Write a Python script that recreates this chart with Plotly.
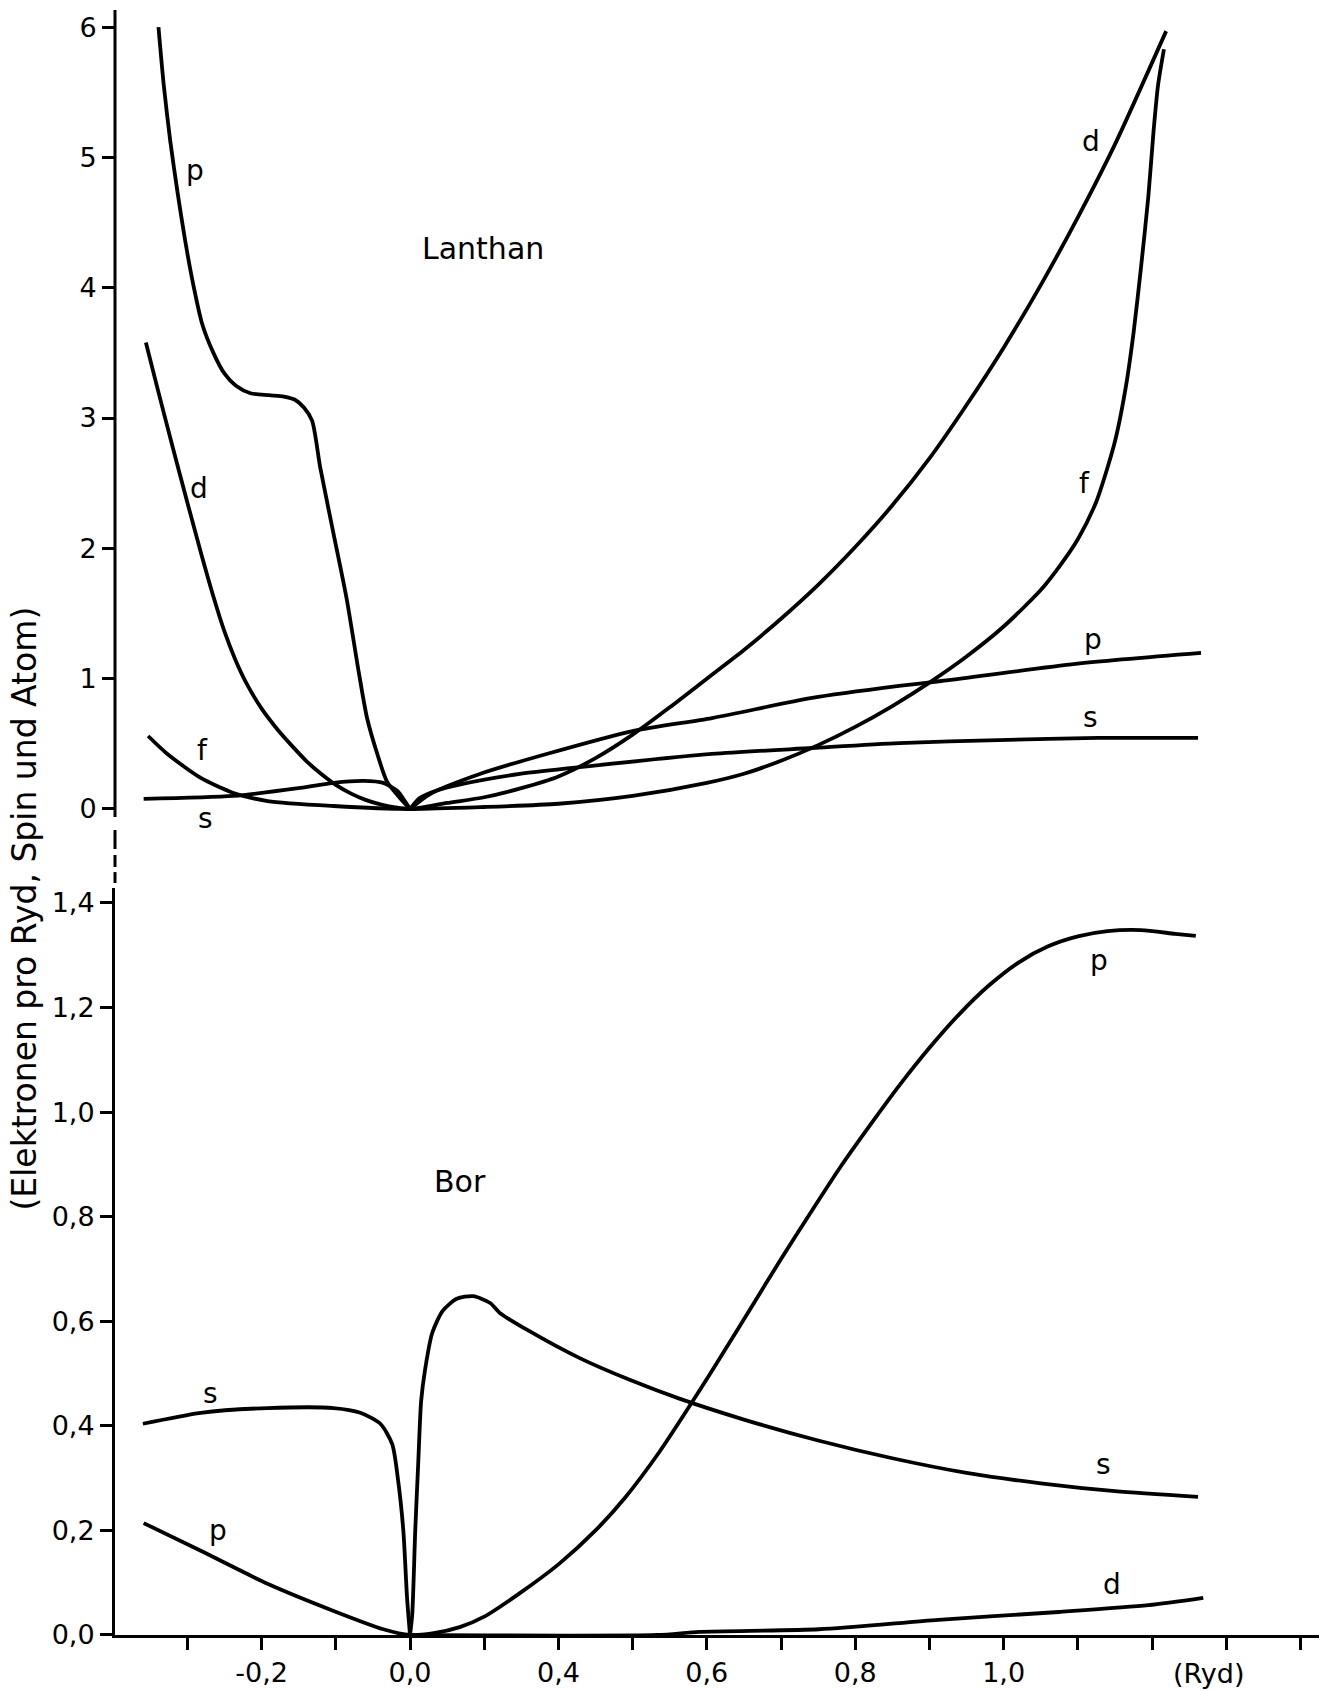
import plotly.graph_objects as go

# ---------------------------------------------------------------------------
# Partial state densities, Lanthan (top) and Bor (bottom)
# energy E in Ryd relative to the Fermi level, N in electrons per Ryd, spin, atom
# a None splits a curve into separate branches at a cusp
# ---------------------------------------------------------------------------

# Lanthan
la_p_E = [-0.339, -0.332, -0.323, -0.313, -0.303, -0.292, -0.280, -0.265, -0.250, -0.235,
          -0.215, -0.190, -0.170, -0.155, -0.143, -0.132, -0.121, -0.103, -0.085, -0.070,
          -0.058, -0.044, -0.031, -0.013, 0.0, None,
          0.0, 0.027, 0.094, 0.184, 0.300, 0.407, 0.542, 0.659, 0.716, 0.897, 1.066]
la_p_N = [6.00, 5.56, 5.12, 4.72, 4.36, 4.02, 3.72, 3.50, 3.34, 3.25,
          3.19, 3.175, 3.165, 3.14, 3.08, 2.98, 2.62, 2.11, 1.60, 1.08,
          0.70, 0.42, 0.21, 0.08, 0.0, None,
          0.0, 0.115, 0.269, 0.422, 0.598, 0.698, 0.852, 0.944, 0.982, 1.113, 1.197]

la_d_E = [-0.356, -0.340, -0.320, -0.300, -0.282, -0.265, -0.250, -0.235, -0.220, -0.200,
          -0.180, -0.160, -0.140, -0.120, -0.100, -0.080, -0.060, -0.040, -0.020, 0.0,
          0.05, 0.10, 0.15, 0.20, 0.25, 0.30, 0.35, 0.40, 0.45, 0.50,
          0.55, 0.60, 0.65, 0.70, 0.75, 0.80, 0.85, 0.90, 0.95, 1.019]
la_d_N = [3.58, 3.22, 2.78, 2.35, 1.97, 1.63, 1.36, 1.14, 0.96, 0.77,
          0.62, 0.49, 0.37, 0.27, 0.185, 0.12, 0.07, 0.035, 0.012, 0.0,
          0.046, 0.09, 0.16, 0.25, 0.39, 0.57, 0.78, 1.00, 1.22, 1.46,
          1.72, 2.01, 2.33, 2.69, 3.10, 3.54, 4.02, 4.54, 5.10, 5.969]

la_f_E = [-0.353, -0.327, -0.282, -0.238, -0.192, -0.103, 0.0, 0.10, 0.20, 0.30,
          0.40, 0.45, 0.50, 0.55, 0.60, 0.65, 0.70, 0.75, 0.80, 0.85,
          0.875, 0.90, 0.925, 0.95, 0.965, 0.975, 0.985, 0.995, 1.002, 1.008, 1.016]
la_f_N = [0.560, 0.422, 0.238, 0.123, 0.061, 0.023, 0.0, 0.015, 0.04, 0.10,
          0.20, 0.27, 0.37, 0.49, 0.63, 0.79, 0.97, 1.17, 1.40, 1.68,
          1.86, 2.07, 2.36, 2.82, 3.25, 3.65, 4.15, 4.70, 5.20, 5.55, 5.83]

la_s_E = [-0.359, -0.238, -0.148, -0.103, -0.063, -0.036, -0.017, -0.007, 0.0, None,
          0.0, 0.013, 0.034, 0.071, 0.148, 0.219, 0.407, 0.542, 0.659, 0.793, 0.927, 1.062]
la_s_N = [0.077, 0.100, 0.161, 0.200, 0.215, 0.200, 0.138, 0.061, 0.0, None,
          0.0, 0.084, 0.138, 0.192, 0.269, 0.315, 0.422, 0.468, 0.506, 0.529, 0.545, 0.545]

# Bor
bo_s_E = [-0.360, -0.282, -0.192, -0.103, -0.067, -0.040, -0.024, -0.016, -0.009, -0.004,
          0.0, None,
          0.0, 0.003, 0.007, 0.011, 0.015, 0.020, 0.030, 0.044, 0.063, 0.085,
          0.108, 0.121, 0.161, 0.228, 0.296, 0.363, 0.45, 0.55, 0.65, 0.75, 0.85, 0.95, 1.062]
bo_s_N = [0.404, 0.425, 0.434, 0.434, 0.425, 0.404, 0.365, 0.295, 0.199, 0.071,
          0.0, None,
          0.0, 0.040, 0.199, 0.327, 0.448, 0.505, 0.578, 0.620, 0.643, 0.648,
          0.635, 0.616, 0.581, 0.530, 0.488, 0.452, 0.412, 0.372, 0.338, 0.310, 0.290, 0.275, 0.264]

bo_p_E = [-0.359, -0.282, -0.192, -0.103, -0.036, 0.0, 0.03, 0.067, 0.10, 0.148,
          0.20, 0.25, 0.29, 0.336, 0.38, 0.42, 0.46, 0.50, 0.54, 0.58,
          0.62, 0.66, 0.70, 0.74, 0.78, 0.82, 0.86, 0.90, 0.94, 0.985, 1.031, 1.059]
bo_p_N = [0.214, 0.161, 0.098, 0.046, 0.011, 0.0, 0.003, 0.015, 0.035, 0.080,
          0.135, 0.200, 0.263, 0.350, 0.445, 0.535, 0.627, 0.719, 0.808, 0.895,
          0.975, 1.052, 1.123, 1.187, 1.242, 1.286, 1.317, 1.336, 1.346, 1.348, 1.341, 1.337]

bo_d_E = [0.0, 0.333, 0.390, 0.551, 0.712, 0.874, 0.995, 1.069]
bo_d_N = [0.0, 0.0, 0.006, 0.011, 0.029, 0.044, 0.057, 0.071]

# axis ticks
x_tick_vals = [-0.3, -0.2, -0.1, 0.0, 0.1, 0.2, 0.3, 0.4, 0.5, 0.6, 0.7, 0.8, 0.9, 1.0, 1.1, 1.2]
x_tick_text = ["", "-0,2", "", "0,0", "", "0,4", "", "0,6", "", "0,8", "", "1,0", "", "", "", ""]
la_tick_vals = [0, 1, 2, 3, 4, 5, 6]
la_tick_text = ["0", "1", "2", "3", "4", "5", "6"]
bo_tick_vals = [0.0, 0.2, 0.4, 0.6, 0.8, 1.0, 1.2, 1.4]
bo_tick_text = ["0,0", "0,2", "0,4", "0,6", "0,8", "1,0", "1,2", "1,4"]

# curve labels: (text, E, N)
la_labels = [("p", -0.290, 4.90), ("d", -0.285, 2.46), ("f", -0.280, 0.45), ("s", -0.276, -0.07),
             ("d", 0.918, 5.12), ("f", 0.909, 2.50), ("p", 0.921, 1.30), ("s", 0.917, 0.70)]
bo_labels = [("p", 0.929, 1.289), ("s", -0.269, 0.461), ("p", -0.259, 0.199),
             ("s", 0.934, 0.327), ("d", 0.946, 0.096)]

FONT = "DejaVu Sans"
INK = "black"

fig = go.Figure()

def curve(E, N, yax):
    fig.add_trace(go.Scatter(
        x=E, y=N, mode="lines", xaxis="x", yaxis=yax,
        line=dict(color=INK, width=3.8, shape="spline", smoothing=0.7),
        connectgaps=False, hoverinfo="skip", showlegend=False))

for E, N in [(la_p_E, la_p_N), (la_d_E, la_d_N), (la_f_E, la_f_N), (la_s_E, la_s_N)]:
    curve(E, N, "y")
for E, N in [(bo_s_E, bo_s_N), (bo_p_E, bo_p_N), (bo_d_E, bo_d_N)]:
    curve(E, N, "y2")

annotations = []
for txt, e, n in la_labels:
    annotations.append(dict(text=txt, x=e, y=n, xref="x", yref="y", showarrow=False,
                            font=dict(size=28, family=FONT, color=INK)))
for txt, e, n in bo_labels:
    annotations.append(dict(text=txt, x=e, y=n, xref="x", yref="y2", showarrow=False,
                            font=dict(size=28, family=FONT, color=INK)))

annotations += [
    dict(text="Lanthan", x=0.098, y=4.30, xref="x", yref="y", showarrow=False,
         font=dict(size=30, family=FONT, color=INK)),
    dict(text="Bor", x=0.067, y=0.868, xref="x", yref="y2", showarrow=False,
         font=dict(size=30, family=FONT, color=INK)),
    dict(text="(Ryd)", x=1.076, y=-0.0234, xref="x", yref="paper", showarrow=False,
         yanchor="middle", font=dict(size=27, family=FONT, color=INK)),
    dict(text="(Elektronen pro Ryd, Spin und Atom)", x=-0.0748, y=0.447,
         xref="paper", yref="paper", showarrow=False, textangle=-90,
         xanchor="center", yanchor="middle", font=dict(size=33, family=FONT, color=INK)),
]

# left axis of the upper panel and the broken section between the panels
shapes = [dict(type="line", xref="paper", yref="paper", x0=0, x1=0, y0=0.5034, y1=1.0,
               line=dict(color=INK, width=3), layer="above")]
for y0, y1 in [(0.4954, 0.4837), (0.4800, 0.4726), (0.4695, 0.4628)]:
    shapes.append(dict(type="line", xref="paper", yref="paper", x0=0, x1=0, y0=y0, y1=y1,
                       line=dict(color=INK, width=3), layer="above"))

tick_style = dict(ticks="outside", ticklen=12, tickwidth=2.5, tickcolor=INK,
                  showgrid=False, zeroline=False, automargin=False,
                  tickfont=dict(size=27, family=FONT, color=INK))

fig.update_layout(
    width=1330, height=1690,
    margin=dict(l=115, r=11, t=10, b=55, autoexpand=False),
    paper_bgcolor="white", plot_bgcolor="white",
    showlegend=False,
    font=dict(family=FONT, color=INK),
    xaxis=dict(domain=[0, 1], range=[-0.3976, 1.225], anchor="y2",
               tickmode="array", tickvals=x_tick_vals, ticktext=x_tick_text,
               showline=True, linewidth=3, linecolor=INK, **tick_style),
    yaxis=dict(domain=[0.4987, 1.0], range=[-0.12, 6.131], anchor="x",
               tickmode="array", tickvals=la_tick_vals, ticktext=la_tick_text,
               showline=False, **tick_style),
    yaxis2=dict(domain=[0.0, 0.4597], range=[0.0, 1.4286], anchor="x",
                tickmode="array", tickvals=bo_tick_vals, ticktext=bo_tick_text,
                showline=True, linewidth=3, linecolor=INK, **tick_style),
    annotations=annotations,
    shapes=shapes,
)

fig.write_html("out.html")
